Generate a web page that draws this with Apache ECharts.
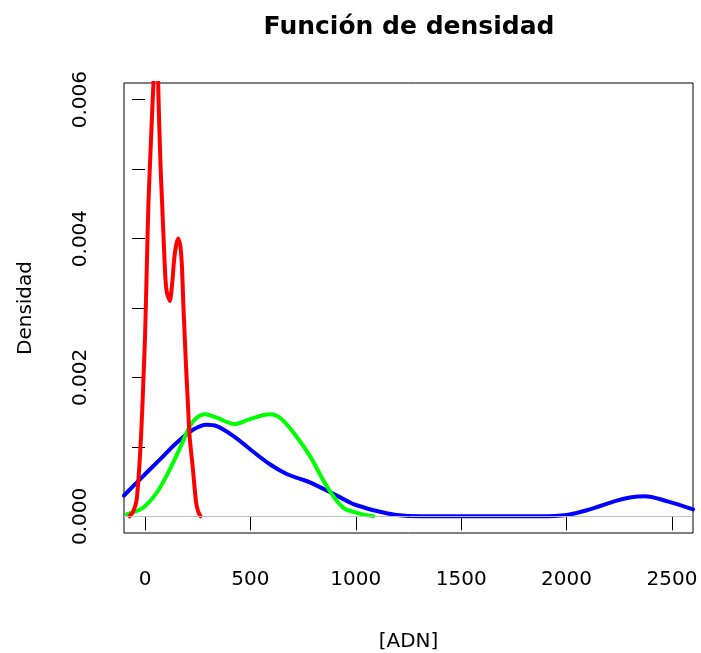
<!DOCTYPE html>
<html>
<head>
<meta charset="utf-8">
<title>Función de densidad</title>
<script src="https://cdn.jsdelivr.net/npm/echarts@6/dist/echarts.min.js"></script>
<style>
  html, body { margin: 0; padding: 0; background: #fff; }
  #chart { width: 701px; height: 653px; }
</style>
</head>
<body>
<div id="chart"></div>
<script>
// datos: [ADN], densidad
const azul = [
  [-100, 0.0003], [-9, 0.00058], [71, 0.00082], [150, 0.00106], [229, 0.00125],
  [292, 0.00132], [340, 0.0013], [418, 0.00116], [497, 0.00097], [592, 0.00075],
  [672, 0.00061], [736, 0.00054], [782, 0.00049], [877, 0.00035], [972, 0.0002],
  [1004, 0.00016], [1099, 0.000076], [1193, 0.00002], [1304, 0], [1873, 0],
  [2000, 0.00002], [2110, 0.0001], [2230, 0.00022], [2300, 0.00027], [2370, 0.00029],
  [2475, 0.00022], [2600, 0.0001]
];
const verde = [
  [-86, 0.00003], [-9, 0.000125], [55, 0.00034], [118, 0.00068], [174, 0.00104],
  [213, 0.0013], [245, 0.00142], [284, 0.00147], [340, 0.00142], [426, 0.00133],
  [497, 0.0014], [592, 0.00147], [640, 0.00142], [703, 0.00121], [782, 0.00087],
  [861, 0.00044], [940, 0.000125], [1019, 0.00004], [1083, 0]
];
const rojo = [
  [-73, 0], [-55, 0.00008], [-40, 0.00024], [-28, 0.00068], [-19, 0.00116],
  [-12, 0.00164], [-6, 0.00212], [0, 0.0026], [8, 0.00356], [16, 0.00452],
  [29, 0.00548], [40, 0.00626], [49, 0.0069], [55, 0.0071], [59, 0.0067],
  [62, 0.00626], [66, 0.00577], [74, 0.005], [82, 0.00443], [90, 0.00385],
  [97, 0.0034], [105, 0.0032], [118, 0.0031], [130, 0.0034], [138, 0.0037],
  [147, 0.0039], [157, 0.004], [167, 0.0039], [175, 0.0036], [181, 0.0031],
  [188, 0.0026], [195, 0.00212], [203, 0.00164], [211, 0.00116], [227, 0.00068],
  [242, 0.0002], [253, 0.00006], [263, 0]
];
const xTicks = [0, 500, 1000, 1500, 2000, 2500];
const yTicks = [0, 0.001, 0.002, 0.003, 0.004, 0.005, 0.006];
const yLabels = [0, 0.002, 0.004, 0.006];

const chart = echarts.init(document.getElementById("chart"));
const fuente = "DejaVu Sans";

chart.setOption({
  animation: false,
  backgroundColor: "#fff",
  title: {
    text: "Función de densidad",
    left: 409,
    top: 15,
    padding: 0,
    textAlign: "center",
    textStyle: { fontFamily: fuente, fontSize: 25, fontWeight: "bold", color: "#000" }
  },
  grid: {
    left: 124, right: 8, top: 83, bottom: 120,
    containLabel: false, outerBoundsMode: "none",
    show: true, borderColor: "#000", borderWidth: 1, backgroundColor: "transparent"
  },
  xAxis: {
    type: "value",
    min: -100,
    max: 2600,
    name: "[ADN]",
    nameLocation: "middle",
    nameGap: 99,
    nameTextStyle: { fontFamily: fuente, fontSize: 20, color: "#000", verticalAlign: "top" },
    axisLine: { show: false },
    axisTick: { show: true, inside: false, length: 14, customValues: xTicks, lineStyle: { color: "#000", width: 1 } },
    axisLabel: {
      customValues: xTicks, margin: 37,
      fontFamily: fuente, fontSize: 20, color: "#000",
      formatter: v => String(v)
    },
    splitLine: { show: false }
  },
  yAxis: {
    type: "value",
    min: -0.00024,
    max: 0.00624,
    name: "Densidad",
    nameLocation: "middle",
    nameRotate: 90,
    nameGap: 88,
    nameTextStyle: { fontFamily: fuente, fontSize: 20, color: "#000" },
    axisLine: { show: false },
    axisTick: { show: true, inside: false, length: 13, customValues: yTicks, lineStyle: { color: "#000", width: 1 } },
    axisLabel: {
      customValues: yLabels, rotate: 90, margin: 33,
      fontFamily: fuente, fontSize: 20, color: "#000",
      formatter: v => v.toFixed(3)
    },
    splitLine: { show: false }
  },
  series: [
    {
      name: "azul", type: "line", data: azul, smooth: 0.35, showSymbol: false,
      lineStyle: { color: "#0000ff", width: 4, cap: "round", join: "round" },
      markLine: {
        silent: true, symbol: "none", label: { show: false }, animation: false,
        lineStyle: { color: "#bebebe", width: 1, type: "solid" },
        data: [{ yAxis: 0 }]
      }
    },
    {
      name: "verde", type: "line", data: verde, smooth: 0.35, showSymbol: false,
      lineStyle: { color: "#00ff00", width: 4, cap: "round", join: "round" }
    },
    {
      name: "rojo", type: "line", data: rojo, smooth: 0.2, showSymbol: false,
      lineStyle: { color: "#ff0000", width: 4, cap: "round", join: "round" }
    }
  ]
});
</script>
</body>
</html>
